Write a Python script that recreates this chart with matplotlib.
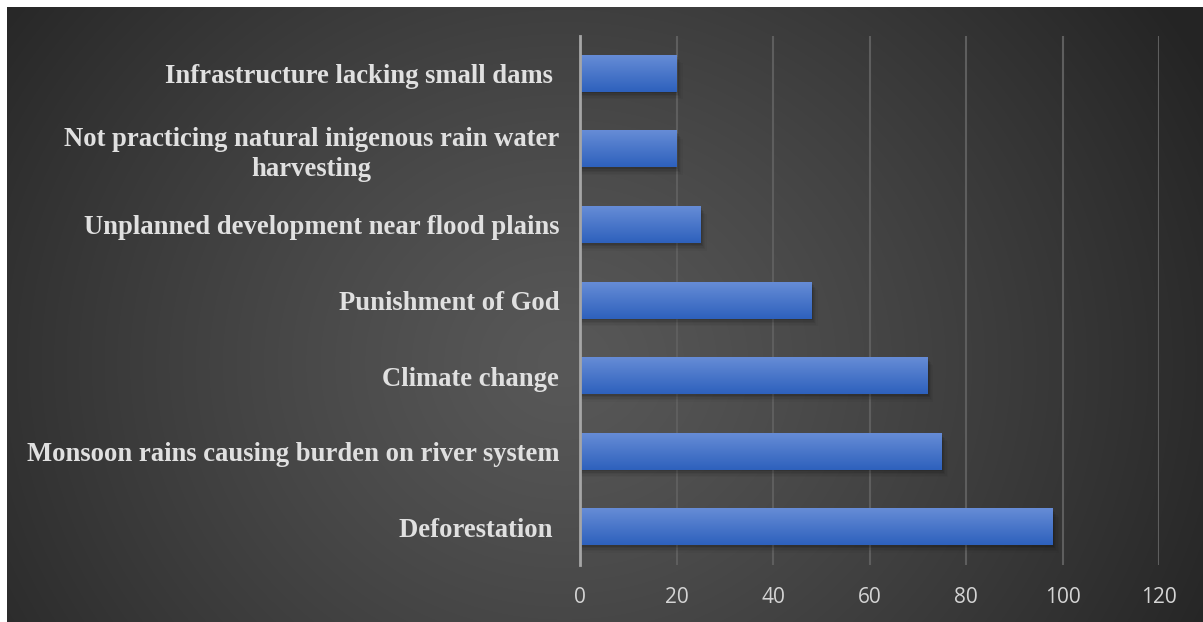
import numpy as np
import matplotlib.pyplot as plt

# Survey responses: perceived causes of flooding
causes = [
    'Deforestation ',
    'Monsoon rains causing burden on river system',
    'Climate change',
    'Punishment of God',
    'Unplanned development near flood plains',
    'Not practicing natural inigenous rain water\nharvesting',
    'Infrastructure lacking small dams ',
]
counts = [98, 75, 72, 48, 25, 20, 20]
xticks = [0, 20, 40, 60, 80, 100, 120]

W, H = 1203, 622
fig = plt.figure(figsize=(W / 100, H / 100), dpi=100, facecolor='white')

# dark radial backdrop, leaving a thin white strip on the left and top
bg = fig.add_axes([7 / W, 0, 1 - 7 / W, 1 - 7 / H])
bg.axis('off')
yy, xx = np.mgrid[0:H, 0:W]
r = np.hypot((xx - 560) / 1.0, (yy - 360) / 0.9)
r = np.clip(r / 720, 0, 1)
shade = 0.345 - 0.2 * r ** 1.2
img = np.dstack([shade, shade, shade])
bg.imshow(img, aspect='auto', extent=[0, 1, 0, 1], origin='upper')
bg.set_xlim(0, 1)
bg.set_ylim(0, 1)

ax = fig.add_axes([580 / W, (H - 565) / H, (1159 - 580) / W, (565 - 36) / H])
ax.patch.set_alpha(0)
ypos = np.arange(len(causes))
bars = ax.barh(ypos, counts, height=0.48, color='#4472c4', zorder=3)

# vertical blue gradient on each bar plus a soft drop shadow below it
grad = np.linspace(0, 1, 64).reshape(-1, 1)
top = np.array([0.40, 0.55, 0.84])
bot = np.array([0.18, 0.38, 0.74])
grad_img = top * (1 - grad[..., None]) + bot * grad[..., None]
for b in bars:
    x0, y0, w, h = b.get_x(), b.get_y(), b.get_width(), b.get_height()
    for k, a in enumerate([0.10, 0.08, 0.06, 0.04, 0.03]):
        d = 0.02 * (k + 1)
        ax.add_patch(plt.Rectangle((x0, y0 - d), w + 0.25 * (k + 1), h,
                                   color='black', alpha=a, zorder=2, linewidth=0))
    ax.imshow(grad_img, extent=[x0, x0 + w, y0, y0 + h], aspect='auto',
              zorder=4, interpolation='bilinear')

ax.set_xlim(0, 120)
ax.set_ylim(-0.5, len(causes) - 0.5)
ax.set_xticks(xticks)
ax.set_yticks(ypos)
ax.set_yticklabels(causes, fontfamily='Liberation Serif', fontweight='bold',
                   fontsize=19.2, color='#e0e0e0', linespacing=1.25)
ax.tick_params(axis='y', length=0, pad=15)
ax.tick_params(axis='x', length=0, pad=16, labelsize=15, labelcolor='#d4d4d4')
for lbl in ax.get_xticklabels():
    lbl.set_fontfamily('Open Sans')
for lbl in ax.get_yticklabels():
    lbl.set_horizontalalignment('right')
    if '\n' in lbl.get_text():
        lbl.set_multialignment('center')

ax.grid(axis='x', color='#5e5e5e', linewidth=1.5, zorder=1)
for side in ['top', 'right', 'bottom']:
    ax.spines[side].set_visible(False)
ax.spines['left'].set_color('#a6a6a6')
ax.spines['left'].set_linewidth(2)
ax.spines['left'].set_zorder(5)

fig.savefig('out.png', dpi=100, facecolor='white')
